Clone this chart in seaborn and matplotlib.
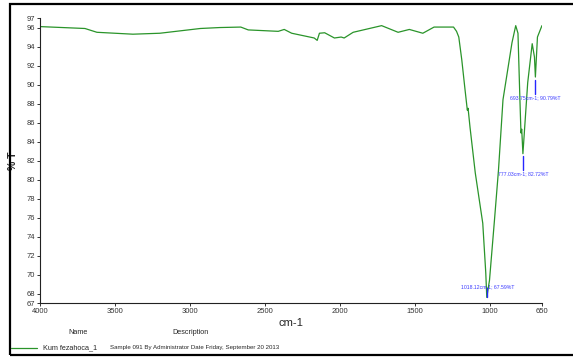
import matplotlib
matplotlib.use("Agg")
import matplotlib.pyplot as plt
import seaborn as sns
from matplotlib.patches import Rectangle

# FTIR spectrum (wavenumber cm-1, %T)
wavenumber = [4000, 3700, 3620, 3380, 3200, 2930, 2800, 2660, 2610, 2410, 2370,
              2320, 2170, 2150, 2135, 2100, 2035, 1990, 1970, 1910, 1720, 1610,
              1535, 1445, 1370, 1240, 1220, 1205, 1185, 1165, 1148, 1143, 1130,
              1095, 1045, 1025, 1018.12, 1000, 967, 940, 910, 850, 825, 810, 797,
              790, 785, 777.03, 745, 715, 700, 693.75, 680, 670, 650]
transmittance = [96.1, 95.9, 95.5, 95.3, 95.4, 95.9, 96.0, 96.05, 95.75, 95.6, 95.8,
                 95.4, 94.9, 94.65, 95.4, 95.45, 94.9, 95.0, 94.9, 95.5, 96.2, 95.5,
                 95.8, 95.4, 96.05, 96.05, 95.6, 95.0, 92.6, 89.7, 87.3, 87.5, 85.5,
                 80.7, 75.4, 70.2, 67.59, 69.4, 75.7, 81.0, 88.4, 94.4, 96.2, 95.4, 88.4,
                 84.9, 85.3, 82.72, 90.2, 94.3, 92.9, 90.79, 95.0, 95.4, 96.2]

peak_wn = [1018.12, 777.03, 693.75]
peak_t = [67.59, 82.72, 90.79]
# where each peak label sits (wavenumber of left edge, %T of text centre)
label_wn = [1190, 943, 863]
label_t = [68.7, 80.6, 88.6]
# blue marker line span relative to the peak value
mark_lo = [0.0, -0.2, -0.3]
mark_hi = [1.0, -1.7, -1.8]

x_ticks = [4000, 3500, 3000, 2500, 2000, 1500, 1000, 650]
y_ticks = [67, 68, 70, 72, 74, 76, 78, 80, 82, 84, 86, 88, 90, 92, 94, 96, 97]

sns.set_style("ticks")
plt.rcParams["font.family"] = ["Liberation Sans", "DejaVu Sans"]

fig = plt.figure(figsize=(5.73, 3.58), dpi=100)
ax = fig.add_axes([0.0698, 0.1536, 0.876, 0.796])

sns.lineplot(x=wavenumber, y=transmittance, sort=False, color="#2a942a",
             linewidth=0.9, ax=ax)

ax.set_xlim(4000, 650)
ax.set_ylim(67, 97)
ax.set_xticks(x_ticks)
ax.set_yticks(y_ticks)
ax.tick_params(labelsize=5.5, length=2.5, width=0.7, pad=1, colors="#333333")
for s in ["left", "bottom"]:
    ax.spines[s].set_linewidth(0.8)
    ax.spines[s].set_color("#222222")
sns.despine(ax=ax)

ax.set_xlabel("cm-1", fontsize=8, labelpad=2)
ax.set_ylabel("% T", fontsize=7.5, fontweight="bold", labelpad=6)

# peak labels with small blue markers
for w, t, lw_, lt, lo, hi in zip(peak_wn, peak_t, label_wn, label_t, mark_lo, mark_hi):
    ax.plot([w, w], [t + lo, t + hi], color="#2626ff", linewidth=1.0)
    ax.text(lw_, lt, f"{w:.2f}cm-1; {t:.2f}%T", fontsize=3.7, color="#3a3aff",
            ha="left", va="center")

# frame and legend strip
fig.patches.append(Rectangle((10 / 573, 3 / 358), 1.0, 351 / 358,
                             transform=fig.transFigure, fill=False,
                             edgecolor="black", linewidth=1.6))
fig.text(68 / 573, 1 - 333 / 358, "Name", fontsize=5.2, va="center")
fig.text(172 / 573, 1 - 333 / 358, "Description", fontsize=5.2, va="center")
fig.lines.append(plt.Line2D([11 / 573, 37 / 573], [1 - 348 / 358] * 2,
                            transform=fig.transFigure, color="#2a942a", linewidth=0.9))
fig.text(43 / 573, 1 - 348 / 358, "Kum fezahoca_1", fontsize=5.2, va="center")
fig.text(110 / 573, 1 - 348 / 358,
         "Sample 091 By Administrator Date Friday, September 20 2013",
         fontsize=4.4, va="center")

fig.savefig("out.png", dpi=100)
